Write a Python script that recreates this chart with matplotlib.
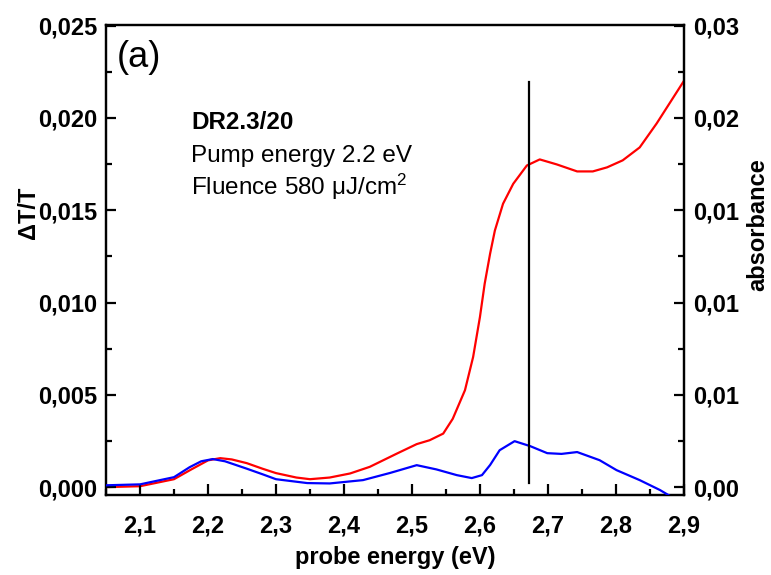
import matplotlib
matplotlib.use("Agg")
import matplotlib.pyplot as plt
from matplotlib.ticker import MultipleLocator, FixedLocator

plt.rcParams['font.family'] = ['Liberation Sans', 'DejaVu Sans']
plt.rcParams['mathtext.fontset'] = 'custom'
plt.rcParams['mathtext.rm'] = 'Liberation Sans'
plt.rcParams['mathtext.it'] = 'Liberation Sans:italic'
plt.rcParams['mathtext.bf'] = 'Liberation Sans:bold'

# Absorbance (red)
abs_x = [2.05, 2.10, 2.15, 2.175, 2.20, 2.218, 2.235, 2.257, 2.28, 2.30, 2.33, 2.35,
         2.379, 2.409, 2.438, 2.478, 2.507, 2.526, 2.546, 2.56, 2.578, 2.59, 2.60,
         2.607, 2.615, 2.622, 2.634, 2.649, 2.669, 2.688, 2.713, 2.743, 2.766, 2.787,
         2.81, 2.835, 2.86, 2.9]
abs_y = [0.00000, 0.00005, 0.00043, 0.00095, 0.00145, 0.00157, 0.00150, 0.00130, 0.00100,
         0.00076, 0.00052, 0.00043, 0.00052, 0.00074, 0.00110, 0.00182, 0.00233, 0.00254,
         0.00290, 0.00370, 0.00525, 0.00705, 0.00921, 0.01102, 0.01265, 0.01390, 0.01535,
         0.01643, 0.01742, 0.01775, 0.01748, 0.01710, 0.01710, 0.01732, 0.01770, 0.01840,
         0.01970, 0.02200]

# Delta T / T (blue)
dt_x = [2.05, 2.10, 2.15, 2.173, 2.19, 2.207, 2.225, 2.257, 2.28, 2.30, 2.346, 2.379,
        2.428, 2.468, 2.507, 2.536, 2.566, 2.588, 2.603, 2.615, 2.629, 2.651, 2.674,
        2.699, 2.72, 2.743, 2.776, 2.801, 2.835, 2.865, 2.885]
dt_y = [0.00010, 0.00015, 0.00054, 0.00108, 0.00140, 0.00152, 0.00140, 0.00100, 0.00070,
        0.00043, 0.00022, 0.00020, 0.00038, 0.00077, 0.00119, 0.00096, 0.00065, 0.00049,
        0.00065, 0.00120, 0.00200, 0.00249, 0.00222, 0.00184, 0.00180, 0.00190, 0.00146,
        0.00092, 0.00038, -0.00016, -0.00060]

marker_x = 2.672
marker_y = [0.0002, 0.02197]

left_ticks = [0.000, 0.005, 0.010, 0.015, 0.020, 0.025]
left_labels = ['0,000', '0,005', '0,010', '0,015', '0,020', '0,025']
right_labels = ['0,00', '0,01', '0,01', '0,01', '0,02', '0,03']
x_ticks = [2.1, 2.2, 2.3, 2.4, 2.5, 2.6, 2.7, 2.8, 2.9]
x_labels = ['2,1', '2,2', '2,3', '2,4', '2,5', '2,6', '2,7', '2,8', '2,9']

fig = plt.figure(figsize=(7.71, 5.75), dpi=100)
ax = fig.add_axes([0.1375, 0.139, 0.7495, 0.8175])
ax2 = ax.twinx()

ylim = (-0.00043, 0.02503)
xlim = (2.05, 2.9)

ax.plot(dt_x, dt_y, color='#0000ff', lw=1.6, zorder=3)
ax2.plot(abs_x, abs_y, color='#ff0000', lw=1.6, zorder=3)
ax.plot([marker_x, marker_x], marker_y, color='black', lw=1.6, zorder=4)

for a in (ax, ax2):
    a.set_xlim(*xlim)
    a.set_ylim(*ylim)
    for s in a.spines.values():
        s.set_linewidth(1.6)

ax.set_zorder(ax2.get_zorder() + 1)
ax.patch.set_visible(False)

ax.yaxis.set_major_locator(FixedLocator(left_ticks))
ax.set_yticklabels(left_labels)
ax.yaxis.set_minor_locator(MultipleLocator(0.0025))
ax2.yaxis.set_major_locator(FixedLocator(left_ticks))
ax2.set_yticklabels(right_labels)
ax2.yaxis.set_minor_locator(MultipleLocator(0.0025))

ax.xaxis.set_major_locator(FixedLocator(x_ticks))
ax.set_xticklabels(x_labels)
ax.xaxis.set_minor_locator(MultipleLocator(0.05))

FS = 17
ax.tick_params(axis='y', which='major', direction='in', length=7, width=1.6, pad=6.5,
               labelsize=FS, right=False)
ax.tick_params(axis='y', which='minor', direction='in', length=4, width=1.6, right=False)
ax.tick_params(axis='x', which='major', direction='in', length=8, width=1.6, pad=14,
               labelsize=FS, top=False)
ax.tick_params(axis='x', which='minor', direction='in', length=4, width=1.6, top=False)
ax2.tick_params(axis='y', which='major', direction='in', length=7, width=1.6, pad=6.5,
                labelsize=FS)
ax2.tick_params(axis='y', which='minor', direction='in', length=4, width=1.6)
for lab in ax.get_xticklabels() + ax.get_yticklabels() + ax2.get_yticklabels():
    lab.set_fontweight('bold')

ax.set_xlabel('probe energy (eV)', fontsize=FS, fontweight='bold')
ax.xaxis.set_label_coords(0.5, -0.108)
ax.set_ylabel('ΔT/T', fontsize=FS, fontweight='bold')
ax.yaxis.set_label_coords(-0.114, 0.60)
ax2.set_ylabel('absorbance', fontsize=FS, fontweight='bold')
ax2.yaxis.set_label_coords(1.108, 0.575)

ax.text(0.018, 0.9106, '(a)', transform=ax.transAxes, fontsize=26, va='baseline', ha='left')
ax.text(0.147, 0.778, 'DR2.3/20', transform=ax.transAxes, fontsize=17.5,
        fontweight='bold', va='baseline', ha='left')
ax.text(0.147, 0.709, 'Pump energy 2.2 eV', transform=ax.transAxes, fontsize=17.5,
        va='baseline', ha='left')
ax.text(0.147, 0.638, 'Fluence 580 μJ/cm$^2$', transform=ax.transAxes, fontsize=17.5,
        va='baseline', ha='left')

fig.savefig('out.png', dpi=100)
